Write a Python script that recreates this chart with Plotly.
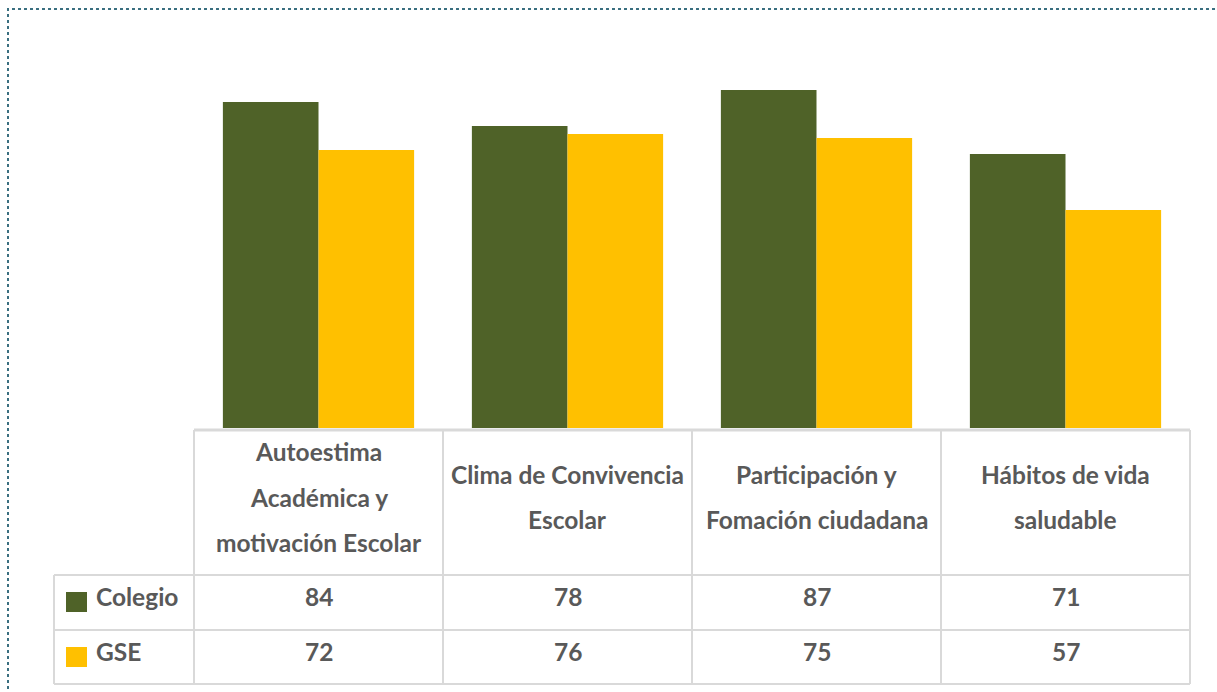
import plotly.graph_objects as go

# Indicator categories (header lines separated by <br>)
categories = [
    "Autoestima<br>Académica y<br>motivación Escolar",
    "Clima de Convivencia<br>Escolar",
    "Participación y<br>Fomación ciudadana",
    "Hábitos de vida<br>saludable",
]
series_names = ["Colegio", "GSE"]
colegio = [84, 78, 87, 71]
gse = [72, 76, 75, 57]
series_values = [colegio, gse]
colors = ["#4F6228", "#FFC000"]

W, H = 1217, 692
TEXT = "#595959"
GRID = "#D9D9D9"
FONT = "Lato"
FSIZE = 24.5

# pixel layout helpers
def px(x):
    return x / W

def py(y):
    return 1 - y / H

plot_left, plot_right = 194, 1190
plot_top, plot_bottom = 38, 428
col_w = (plot_right - plot_left) / len(categories)
table_top, row1, row2, table_bottom = 430, 575, 630, 684
label_left = 54

fig = go.Figure()
for name, vals, c in zip(series_names, series_values, colors):
    fig.add_trace(go.Bar(x=list(range(len(categories))), y=vals, name=name,
                         marker=dict(color=c, line=dict(width=0))))

shapes = []
annotations = []

# dotted frame
shapes.append(dict(type="rect", xref="paper", yref="paper",
                   x0=px(8), x1=px(1240), y0=py(720), y1=py(9),
                   line=dict(color="#3A6F80", width=2, dash="dot")))

# table lines
hline = lambda y, x0, x1, w=2: dict(type="line", xref="paper", yref="paper",
                                    x0=px(x0), x1=px(x1), y0=py(y), y1=py(y),
                                    line=dict(color=GRID, width=w))
vline = lambda x, y0, y1, w=2: dict(type="line", xref="paper", yref="paper",
                                    x0=px(x), x1=px(x), y0=py(y0), y1=py(y1),
                                    line=dict(color=GRID, width=w))
shapes.append(hline(table_top, plot_left, plot_right, 3))
for y in (row1, row2, table_bottom):
    shapes.append(hline(y, label_left, plot_right))
for i in range(len(categories) + 1):
    shapes.append(vline(plot_left + i * col_w, table_top, table_bottom))
shapes.append(vline(label_left, row1, table_bottom))

text_font = dict(family=FONT, size=FSIZE, color=TEXT, weight="bold")

# header text, one annotation per line
header_mid = 497
line_gap = 45
for i, cat in enumerate(categories):
    lines = cat.split("<br>")
    n = len(lines)
    for j, ln in enumerate(lines):
        yc = header_mid + (j - (n - 1) / 2) * line_gap
        annotations.append(dict(x=i, xref="x", y=py(yc), yref="paper",
                                text=ln, showarrow=False, xanchor="center", yanchor="middle",
                                font=text_font))

# data rows
row_centers = [596, 651]
for name, vals, c, yc in zip(series_names, series_values, colors, row_centers):
    shapes.append(dict(type="rect", xref="paper", yref="paper",
                       x0=px(66), x1=px(87), y0=py(yc + 16), y1=py(yc - 4),
                       fillcolor=c, line=dict(width=0)))
    annotations.append(dict(x=px(94), xref="paper", y=py(yc), yref="paper",
                            text=name, showarrow=False, xanchor="left", yanchor="middle",
                            font=text_font))
    for i, v in enumerate(vals):
        annotations.append(dict(x=i, xref="x", y=py(yc), yref="paper",
                                text=str(v), showarrow=False, xanchor="center", yanchor="middle",
                                font=text_font))

fig.update_layout(
    width=W, height=H,
    margin=dict(l=0, r=0, t=0, b=0),
    paper_bgcolor="white", plot_bgcolor="white",
    barmode="group", bargap=0.232, bargroupgap=0,
    showlegend=False,
    xaxis=dict(domain=[px(plot_left), px(plot_right)], range=[-0.5, len(categories) - 0.5],
               showticklabels=False, showgrid=False, zeroline=False, showline=False),
    yaxis=dict(domain=[py(plot_bottom), py(plot_top)], range=[2.5, 100],
               showticklabels=False, showgrid=False, zeroline=False, showline=False),
    shapes=shapes,
    annotations=annotations,
)

fig.write_html("out.html")
